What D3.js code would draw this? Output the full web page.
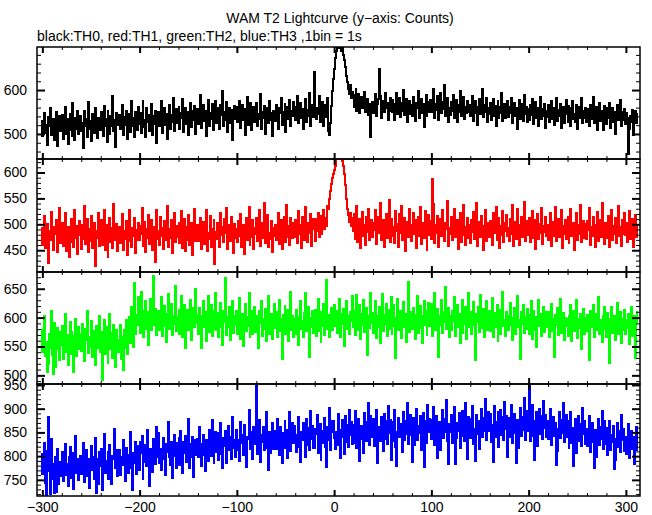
<!DOCTYPE html>
<html><head><meta charset="utf-8">
<script src="https://cdn.jsdelivr.net/npm/d3@7"></script>
<style>body{margin:0;background:#fff;} text{font-family:"Liberation Sans",Arial,Helvetica,sans-serif;}</style>
</head><body><svg id="c" width="652" height="515"></svg>
<script>
const title = "WAM T2 Lightcurve (y\u2212axis: Counts)";
const subtitle = "black:TH0, red:TH1, green:TH2, blue:TH3 ,1bin = 1s";
const binStart = -301; // first bin time (s), 1 bin = 1 s
const xMajorTicks = [-300,-200,-100,0,100,200,300];
const th0 = [
530,495,512,548,503,521,476,539,517,560,498,509,534,487,525,551,472,519,540,506,
515,543,489,527,562,501,533,478,520,546,508,495,571,524,486,537,512,553,499,528,
541,507,526,468,552,519,535,494,573,511,529,484,545,516,502,558,523,490,537,513,
508,549,527,496,563,518,534,481,552,525,499,540,517,586,506,532,471,548,521,539,
544,512,530,567,497,538,521,553,488,529,546,505,574,519,536,494,551,527,510,562,
522,547,503,539,576,515,531,492,558,528,544,507,536,569,498,541,523,552,480,534,
551,518,540,575,502,537,559,521,546,489,533,567,512,544,528,583,507,539,556,524,
529,562,511,547,536,580,505,542,558,523,549,497,538,571,516,553,532,564,501,545,
557,522,548,589,513,541,565,530,552,496,544,578,519,547,535,568,508,551,539,574,
526,559,537,512,566,543,597,518,549,531,572,505,541,560,524,555,487,546,563,533,
561,528,549,575,514,543,567,532,556,498,547,584,521,553,538,570,509,545,562,527,
548,571,519,545,533,590,512,550,537,564,501,543,558,526,574,531,547,495,553,539,
529,566,542,511,558,547,583,520,551,536,569,505,548,562,533,578,517,553,541,572,
562,531,550,587,524,548,571,536,557,512,546,579,528,554,541,593,519,552,566,538,
640,548,533,559,545,586,527,556,540,572,519,553,565,538,581,507,498,525,563,598,
625,648,672,690,712,705,695,720,688,702,680,668,652,631,618,603,590,612,582,596,
588,561,579,603,552,574,590,547,569,585,558,572,596,551,566,580,543,569,492,556,
572,548,563,591,541,568,579,648,587,536,562,575,549,593,558,570,532,564,581,553,
549,577,556,532,568,594,545,561,583,538,570,552,601,543,565,579,527,558,574,546,
567,541,584,553,529,571,558,597,536,562,580,547,569,515,555,588,542,573,551,566,
578,549,563,602,537,569,555,586,531,564,593,548,572,557,611,540,566,583,528,559,
544,573,552,589,536,561,578,527,565,549,598,540,570,556,584,533,562,547,575,551,
567,541,559,586,530,553,574,548,521,562,579,545,557,603,538,566,550,582,527,558,
545,571,532,558,580,541,563,519,554,576,537,561,548,594,529,557,569,536,552,574,
538,562,547,583,525,553,570,541,559,512,549,577,534,556,568,530,588,545,561,527,
556,531,567,543,579,522,551,540,573,536,560,519,548,585,533,557,542,569,514,552,
539,566,528,551,574,535,558,521,547,583,530,554,541,569,513,550,562,526,545,578,
551,527,563,540,519,558,574,533,546,528,567,511,549,561,537,582,524,552,536,560,
528,556,541,519,567,533,550,585,524,545,562,510,538,571,529,553,540,508,564,535,
548,523,559,536,571,514,542,560,527,551,499,538,566,531,545,577,518,549,532,556,
522,547,536,455,511,541,528,555,497,539,552,526,545];
const th1 = [
492,461,483,517,455,476,501,425,488,469,524,472,450,495,481,509,446,478,532,463,
470,503,458,486,521,449,477,494,436,482,511,466,489,457,528,474,497,443,480,506,
487,452,499,471,535,462,484,510,447,491,468,516,455,479,503,420,488,474,522,459,
473,508,461,489,527,451,482,498,437,476,513,465,492,454,540,470,486,501,448,479,
495,463,481,519,450,487,472,506,441,484,528,468,456,493,477,512,445,489,470,503,
469,497,482,531,458,476,504,446,490,473,518,462,485,509,451,480,494,428,527,471,
488,460,515,477,493,452,506,482,470,536,457,491,474,508,444,486,521,465,480,497,
475,502,463,489,526,455,480,511,449,494,470,518,461,487,503,441,484,530,468,492,
498,467,485,512,453,479,505,462,491,527,448,483,471,516,457,490,474,509,424,486,
472,503,488,456,521,479,494,465,510,483,532,452,477,498,468,515,486,445,501,474,
491,465,507,478,520,457,485,499,443,482,513,470,496,534,461,488,476,509,452,493,
481,512,468,495,527,459,486,503,474,542,463,490,518,456,484,471,507,447,492,478,
499,470,486,521,462,493,508,452,479,515,485,466,537,475,497,460,512,488,473,503,
476,508,492,463,526,481,498,455,514,487,470,533,494,466,502,483,520,458,491,511,
495,468,510,487,522,476,499,517,482,506,528,490,513,497,535,530,548,565,578,590,
597,605,612,630,640,628,635,645,630,622,612,598,575,548,530,518,505,522,496,513,
487,519,472,500,535,466,493,510,454,489,523,477,498,461,514,485,530,470,495,508,
476,503,489,528,462,497,515,483,541,470,494,508,457,486,520,474,499,547,466,491,
510,478,495,463,526,488,501,456,519,484,536,470,493,512,449,487,505,476,530,495,
467,499,521,482,508,455,494,515,478,533,462,490,503,474,526,489,451,497,518,480,
506,471,588,539,463,498,484,517,456,495,511,477,528,486,468,502,490,545,459,493,
482,514,469,497,530,475,491,508,453,487,522,466,500,479,537,484,460,495,512,473,
498,463,509,486,524,471,494,541,458,489,505,476,517,482,451,496,528,468,490,503,
475,507,492,460,521,484,499,533,470,488,513,455,497,480,526,465,502,487,518,478,
493,468,511,482,537,459,490,504,472,529,485,461,498,515,476,492,543,467,488,506,
480,513,466,497,525,474,489,508,452,494,519,471,501,483,531,462,496,486,514,477,
499,470,487,522,458,491,505,478,534,467,492,511,476,488,527,455,497,481,509,472,
486,515,463,494,529,477,490,503,451,488,521,469,498,482,538,466,493,507,474,500,
471,506,489,532,460,495,478,514,483,457,499,523,468,490,509,475,541,484,462,496,
503,474,493,517,456,486,528,469,497,481,512,464,490,535,477,495,459,508,482,521,
479,502,466,494,526,471,488,510,457,493,518,475,497];
const th2 = [
578,541,566,602,533,557,505,520,571,548,612,536,503,590,514,559,582,545,527,575,
552,586,529,564,607,541,570,518,558,593,537,575,549,506,568,597,534,561,583,546,
571,543,589,556,524,580,562,611,538,567,549,594,531,576,557,518,585,548,569,603,
540,575,492,568,596,537,562,584,521,559,607,546,573,530,588,555,515,579,562,541,
553,587,528,566,510,579,548,595,537,572,601,556,618,583,549,660,571,604,588,636,
601,574,645,589,612,566,597,628,581,609,552,594,633,578,606,672,587,615,570,598,
612,578,603,636,569,594,620,585,558,607,641,581,598,624,570,603,589,655,576,601,
583,614,572,601,638,566,597,622,548,590,613,579,606,631,562,598,617,584,650,591,
604,571,616,589,547,602,628,583,609,560,594,637,575,600,621,568,596,612,580,643,
579,608,566,597,625,584,553,611,592,668,570,601,583,619,561,595,628,574,603,587,
612,571,596,634,563,589,606,550,598,623,577,601,585,642,566,594,611,572,587,619,
575,603,586,547,612,591,628,568,597,581,615,559,594,637,572,588,606,563,599,624,
582,610,567,594,631,576,598,528,604,589,620,571,596,613,560,587,645,578,602,566,
597,571,613,585,552,601,629,580,594,567,608,642,576,591,618,531,599,583,611,574,
589,614,568,603,632,577,596,558,609,585,623,570,598,665,581,604,566,593,617,579,
602,621,585,611,574,598,633,567,606,589,615,551,597,628,580,603,572,610,594,637,
584,612,570,601,639,578,596,621,563,607,588,630,575,598,616,535,603,582,642,591,
608,573,597,629,565,602,584,618,556,593,641,577,605,589,624,568,599,613,580,635,
572,604,621,586,530,600,633,578,596,612,565,589,627,583,607,558,594,662,575,601,
609,581,617,592,563,604,638,574,598,620,582,556,603,629,587,611,570,599,625,585,
591,624,568,605,643,579,597,615,532,602,588,631,574,609,593,653,581,600,617,566,
603,578,612,594,635,569,598,622,583,607,556,596,630,574,611,589,619,563,600,642,
584,609,571,600,627,588,527,606,593,618,575,640,582,599,615,567,603,629,579,596,
612,577,598,634,566,591,608,583,621,559,597,614,572,603,645,585,596,568,610,589,
578,603,625,587,561,599,617,572,606,638,584,595,529,610,589,622,574,601,580,615,
604,571,596,628,563,590,612,578,601,549,594,631,585,607,568,597,619,575,592,610,
583,609,566,594,623,577,598,531,605,588,617,570,596,632,574,591,608,561,599,585,
597,568,603,585,621,559,594,611,576,589,630,564,598,582,607,545,591,615,572,600,
576,604,588,527,611,583,597,622,567,590,606,578,635,571,595,583,558,602,619,580,
592,566,608,583,522,597,618,574,589,603,561,594,626,572,585,609,556,598,579,613,
571,596,582,607,555,590,618,569,585,602,530,593,610];
const th3 = [
805,762,791,828,744,718,810,882,768,721,836,751,783,722,799,725,814,741,787,758,
772,809,748,791,825,760,783,737,798,819,754,777,806,731,789,842,765,795,749,780,
801,763,790,827,745,782,812,758,795,733,786,821,770,799,752,838,722,793,741,808,
779,815,728,797,846,764,790,768,809,752,824,784,741,801,795,858,776,812,759,788,
812,760,798,781,834,792,747,817,803,765,789,851,774,728,806,786,829,763,799,821,
771,829,806,842,752,788,811,823,779,856,800,737,814,795,767,837,808,783,862,798,
848,786,815,771,804,839,793,761,826,809,872,798,782,830,753,814,845,801,776,827,
796,838,781,852,819,764,829,806,843,788,811,879,774,825,798,840,757,817,833,802,
837,798,861,812,780,826,845,803,769,834,818,789,856,822,801,876,838,785,813,851,
809,849,792,831,870,805,776,838,821,853,786,827,864,812,841,795,882,818,834,799,
856,812,833,789,871,828,845,803,866,819,777,841,836,898,815,850,824,793,862,831,
826,950,805,838,876,788,844,829,861,812,835,893,818,771,851,806,842,869,814,843,
852,814,879,840,803,861,826,785,848,839,874,817,856,796,829,893,810,846,869,828,
863,831,809,844,883,819,787,850,833,870,842,798,878,823,859,812,896,837,864,818,
818,857,846,886,806,839,868,791,854,827,843,881,820,778,862,834,901,813,851,875,
873,838,816,851,824,889,856,797,840,877,849,805,884,830,866,819,898,844,871,825,
866,828,895,856,817,849,878,790,837,864,853,806,890,871,832,845,911,823,884,840,
843,879,821,857,897,785,862,846,831,883,854,810,889,836,873,825,905,849,876,792,
871,832,858,898,819,780,851,880,840,867,855,808,892,834,874,846,913,826,862,886,
845,788,881,823,859,899,833,864,848,885,812,856,891,778,838,875,827,907,851,878,
876,837,863,903,824,856,885,797,845,872,813,860,897,839,879,851,918,831,784,867,
850,886,828,864,904,783,838,869,853,890,817,861,896,843,880,832,912,856,795,883,
878,839,865,905,826,858,790,887,847,874,815,862,899,841,881,853,920,833,869,893,
852,888,830,866,787,906,840,871,855,892,819,863,898,845,882,834,914,858,885,798,
880,841,867,907,828,860,889,849,786,876,817,864,901,843,883,855,922,835,871,895,
854,950,832,868,908,842,873,791,857,894,821,865,900,847,884,836,916,860,887,840,
873,836,861,899,823,855,882,843,869,782,811,858,894,838,877,849,912,829,864,887,
840,875,818,853,892,828,859,779,843,879,807,850,885,832,868,822,902,846,873,826,
858,821,847,884,809,842,869,829,776,855,798,845,878,823,861,836,896,816,851,874,
826,860,803,838,875,813,845,830,864,772,792,836,869,819,852,809,887,833,857,811,
841,805,830,867,796,826,853,814,840,784,829,862,812];
const yLabels0 = [500,600];
const yLabels1 = [450,500,550,600];
const yLabels2 = [500,550,600,650];
const yLabels3 = [750,800,850,900,950];

const svg = d3.select("#c");
const L = 37, R = 640;
const tops = [47, 159, 272, 384, 496];
const x = d3.scaleLinear().domain([-305.5, 314.5]).range([L, R]);
const xMinor = d3.range(-300, 301, 20).filter(v => v % 100 !== 0);

const panels = [
  {v: th0, c: "#000000", dom: [443, 698], labels: yLabels0, minorStep: 20},
  {v: th1, c: "#ff0000", dom: [408, 626], labels: yLabels1, minorStep: 10},
  {v: th2, c: "#00ff00", dom: [485, 679], labels: yLabels2, minorStep: 10},
  {v: th3, c: "#0000ff", dom: [716, 952], labels: yLabels3, minorStep: 10}
];

svg.append("text").attr("x", 340).attr("y", 23).attr("text-anchor", "middle")
  .attr("font-size", 14).text(title);
svg.append("text").attr("x", 37).attr("y", 41).attr("font-size", 14).text(subtitle);

const defs = svg.append("defs");
panels.forEach((p, i) => {
  const y0 = tops[i], y1 = tops[i + 1];
  const y = d3.scaleLinear().domain(p.dom).range([y1, y0]);
  defs.append("clipPath").attr("id", "clip" + i).append("rect")
    .attr("x", L).attr("y", y0).attr("width", R - L).attr("height", y1 - y0);
  const pts = p.v.map((v, j) => [binStart + j, v]);
  pts.push([binStart + p.v.length, p.v[p.v.length - 1]]);
  const line = d3.line().x(d => x(d[0])).y(d => y(d[1])).curve(d3.curveStepAfter);
  svg.append("path").attr("d", line(pts)).attr("fill", "none")
    .attr("stroke", p.c).attr("stroke-width", 2).attr("shape-rendering", "crispEdges")
    .attr("clip-path", `url(#clip${i})`);

  const yMinor = d3.range(Math.ceil(p.dom[0] / p.minorStep) * p.minorStep, p.dom[1] + 0.001, p.minorStep)
    .filter(v => !p.labels.includes(v));

  const styleAxis = (g, w) => { g.select(".domain").remove(); g.selectAll("line").attr("stroke", "#000").attr("stroke-width", w); };

  svg.append("g").attr("transform", `translate(${L},0)`)
    .call(d3.axisLeft(y).tickValues(p.labels).tickSize(-8).tickPadding(10).tickFormat(d3.format("d")))
    .call(g => styleAxis(g, 2))
    .call(g => g.selectAll("text").attr("font-size", 14).attr("font-family", "Liberation Sans, Arial, sans-serif").attr("fill", "#000"));
  svg.append("g").attr("transform", `translate(${L},0)`)
    .call(d3.axisLeft(y).tickValues(yMinor).tickSize(-4).tickFormat(""))
    .call(g => styleAxis(g, 1));
  svg.append("g").attr("transform", `translate(${R},0)`)
    .call(d3.axisRight(y).tickValues(p.labels).tickSize(-8).tickFormat(""))
    .call(g => styleAxis(g, 2));
  svg.append("g").attr("transform", `translate(${R},0)`)
    .call(d3.axisRight(y).tickValues(yMinor).tickSize(-4).tickFormat(""))
    .call(g => styleAxis(g, 1));
  svg.append("g").attr("transform", `translate(0,${y0})`)
    .call(d3.axisTop(x).tickValues(xMajorTicks).tickSize(-6).tickFormat(""))
    .call(g => styleAxis(g, 2));
  svg.append("g").attr("transform", `translate(0,${y0})`)
    .call(d3.axisTop(x).tickValues(xMinor).tickSize(-3).tickFormat(""))
    .call(g => styleAxis(g, 1));
  const bot = svg.append("g").attr("transform", `translate(0,${y1})`)
    .call(d3.axisBottom(x).tickValues(xMajorTicks).tickSize(-6).tickPadding(6)
      .tickFormat(i === panels.length - 1 ? d3.format("d") : ""))
    .call(g => styleAxis(g, 2));
  bot.selectAll("text").attr("font-size", 14).attr("font-family", "Liberation Sans, Arial, sans-serif").attr("fill", "#000");
  svg.append("g").attr("transform", `translate(0,${y1})`)
    .call(d3.axisBottom(x).tickValues(xMinor).tickSize(-3).tickFormat(""))
    .call(g => styleAxis(g, 1));

  svg.append("rect").attr("x", L).attr("y", y0).attr("width", R - L).attr("height", y1 - y0)
    .attr("fill", "none").attr("stroke", "#000").attr("stroke-width", 1.5);
});
</script></body></html>
